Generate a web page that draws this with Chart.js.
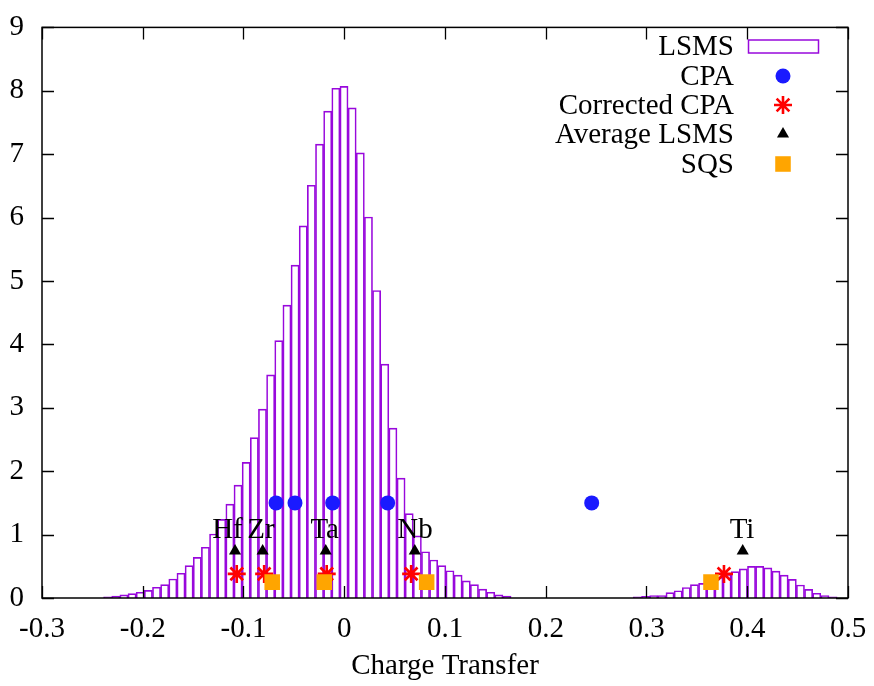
<!DOCTYPE html>
<html>
<head>
<meta charset="utf-8">
<title>Charge Transfer</title>
<script src="https://cdn.jsdelivr.net/npm/chart.js@4.4.0/dist/chart.umd.min.js"></script>
<style>
  html, body { margin: 0; padding: 0; background: #fff; }
  canvas { display: block; }
</style>
</head>
<body>
<canvas id="chart" width="874" height="686"></canvas>
<script>
// LSMS charge transfer histogram, 90 equal bins
const binStart = -0.2389;
const binWidth = 0.00809;
const lsmsCounts = [
  0.02, 0.03, 0.05, 0.07, 0.09, 0.12, 0.17, 0.21, 0.30, 0.39,
  0.51, 0.64, 0.80, 1.01, 1.24, 1.48, 1.78, 2.14, 2.53, 2.98,
  3.52, 4.06, 4.62, 5.25, 5.87, 6.51, 7.16, 7.68, 8.04, 8.07,
  7.73, 7.02, 6.01, 4.85, 3.69, 2.68, 1.89, 1.33, 0.98, 0.73,
  0.60, 0.51, 0.43, 0.36, 0.27, 0.21, 0.14, 0.09, 0.05, 0.03,
  0, 0, 0, 0, 0, 0, 0, 0, 0, 0,
  0, 0, 0, 0, 0, 0.02, 0.025, 0.04, 0.04, 0.085,
  0.115, 0.165, 0.21, 0.23, 0.27, 0.33, 0.37, 0.415, 0.46, 0.50,
  0.50, 0.475, 0.425, 0.36, 0.295, 0.205, 0.135, 0.075, 0.04, 0.02
];

// per-element points
const elements = ["Hf", "Zr", "Ta", "Nb", "Ti"];
const cpaX = [-0.0677, -0.0489, -0.0115, 0.0431, 0.2456];
const cpaY = [1.5, 1.5, 1.5, 1.5, 1.5];
const correctedX = [-0.1067, -0.0795, -0.0174, 0.0664, 0.3769];
const correctedY = [0.38, 0.38, 0.38, 0.38, 0.38];
const avgLsmsX = [-0.1084, -0.0810, -0.0184, 0.0700, 0.3955];
const avgLsmsY = [0.74, 0.74, 0.74, 0.74, 0.74];
const sqsX = [-0.0715, -0.0198, 0.0818, 0.3640];
const sqsY = [0.25, 0.25, 0.25, 0.25];
const elementLabelX = [-0.1159, -0.0826, -0.0194, 0.0702, 0.3948];
const elementLabelY = 0.94;

const xTicks = [-0.3, -0.2, -0.1, 0, 0.1, 0.2, 0.3, 0.4, 0.5];
const yTicks = [0, 1, 2, 3, 4, 5, 6, 7, 8, 9];

const serif = "'Liberation Serif', 'Times New Roman', 'DejaVu Serif', serif";
const fontSize = 29;
const violet = "#9808dc";
Chart.defaults.font.family = serif;
Chart.defaults.font.size = fontSize;
Chart.defaults.color = "#000";

function pairs(xs, ys) {
  return xs.map(function(x, i) { return {x: x, y: ys[i]}; });
}

let histogram = [];
lsmsCounts.forEach(function(c, i) {
  if (c > 0) {
    histogram.push({x: binStart + (i + 0.5) * binWidth, y: c});
  }
});

// boxes span a whole bin on the x scale, like gnuplot "with boxes"
const binBoxes = {
  id: "binBoxes",
  afterDatasetsUpdate(chart) {
    const xs = chart.scales.x;
    const w = xs.getPixelForValue(binWidth) - xs.getPixelForValue(0);
    const meta = chart.getDatasetMeta(0);
    meta.data.forEach(function(bar, i) {
      bar.x = xs.getPixelForValue(histogram[i].x);
      bar.width = w;
    });
  }
};

// frame with inward ticks on all four sides, plus element names
const frame = {
  id: "frame",
  afterDatasetsDraw(chart) {
    const ctx = chart.ctx;
    const a = chart.chartArea;
    const xs = chart.scales.x, ys = chart.scales.y;
    const len = 12;
    ctx.save();
    ctx.strokeStyle = "#000";
    ctx.lineWidth = 1.3;
    ctx.beginPath();
    xTicks.forEach(function(v) {
      const px = Math.round(xs.getPixelForValue(v)) + 0.5;
      ctx.moveTo(px, a.bottom); ctx.lineTo(px, a.bottom - len);
      ctx.moveTo(px, a.top); ctx.lineTo(px, a.top + len);
    });
    yTicks.forEach(function(v) {
      const py = Math.round(ys.getPixelForValue(v)) + 0.5;
      ctx.moveTo(a.left, py); ctx.lineTo(a.left + len, py);
      ctx.moveTo(a.right, py); ctx.lineTo(a.right - len, py);
    });
    ctx.stroke();
    ctx.lineWidth = 1.5;
    ctx.strokeRect(a.left, a.top, a.right - a.left, a.bottom - a.top);

    ctx.font = fontSize + "px " + serif;
    ctx.fillStyle = "#000";
    ctx.textAlign = "center";
    ctx.textBaseline = "alphabetic";
    elements.forEach(function(name, i) {
      ctx.fillText(name, xs.getPixelForValue(elementLabelX[i]), ys.getPixelForValue(elementLabelY));
    });
    ctx.restore();
  }
};

// key in the upper right corner: text right-aligned, sample to its right
const key = {
  id: "key",
  afterDraw(chart) {
    const ctx = chart.ctx;
    const textRight = 734;
    const sampleX = 783;
    const rowY = [46, 76, 105, 134, 164];
    ctx.save();
    ctx.font = fontSize + "px " + serif;
    ctx.textAlign = "right";
    ctx.textBaseline = "middle";
    chart.data.datasets.forEach(function(ds, i) {
      ctx.fillStyle = "#000";
      ctx.fillText(ds.label, textRight, rowY[i] + 1);
      if (ds.type === "bar") {
        ctx.strokeStyle = ds.borderColor;
        ctx.lineWidth = 1.5;
        ctx.strokeRect(748.5, rowY[i] - 6, 70, 13);
      } else {
        ctx.fillStyle = ds.pointBackgroundColor;
        ctx.strokeStyle = ds.pointBorderColor;
        ctx.lineWidth = ds.pointBorderWidth;
        Chart.helpers.drawPoint(ctx, {
          pointStyle: ds.pointStyle,
          radius: ds.pointRadius,
          rotation: 0,
          borderWidth: ds.pointBorderWidth
        }, sampleX, rowY[i]);
      }
    });
    ctx.restore();
  }
};

new Chart(document.getElementById("chart"), {
  data: {
    datasets: [
      {
        type: "bar",
        label: "LSMS",
        data: histogram,
        backgroundColor: "rgba(255,255,255,0)",
        borderColor: violet,
        borderWidth: 1,
        borderSkipped: "start",
        grouped: false,
        barPercentage: 1,
        categoryPercentage: 1,
        order: 5
      },
      {
        type: "scatter",
        label: "CPA",
        xAxisID: "xp",
        data: pairs(cpaX, cpaY),
        pointStyle: "circle",
        pointRadius: 7.5,
        pointBorderWidth: 0,
        pointBackgroundColor: "#1a1aff",
        pointBorderColor: "#1a1aff",
        order: 4
      },
      {
        type: "scatter",
        label: "Corrected CPA",
        xAxisID: "xp",
        data: pairs(correctedX, correctedY),
        pointStyle: "star",
        pointRadius: 9,
        pointBorderWidth: 2.6,
        pointBackgroundColor: "#ff0000",
        pointBorderColor: "#ff0000",
        order: 3
      },
      {
        type: "scatter",
        label: "Average LSMS",
        xAxisID: "xp",
        data: pairs(avgLsmsX, avgLsmsY),
        pointStyle: "triangle",
        pointRadius: 7,
        pointBorderWidth: 0,
        pointBackgroundColor: "#000",
        pointBorderColor: "#000",
        order: 2
      },
      {
        type: "scatter",
        label: "SQS",
        xAxisID: "xp",
        data: pairs(sqsX, sqsY),
        pointStyle: "rect",
        pointRadius: 11,
        pointBorderWidth: 0,
        pointBackgroundColor: "#ffa500",
        pointBorderColor: "#ffa500",
        order: 1
      }
    ]
  },
  options: {
    responsive: false,
    animation: false,
    events: [],
    layout: { padding: { top: 23, right: 26, left: 0, bottom: 0 } },
    plugins: {
      legend: { display: false },
      tooltip: { enabled: false }
    },
    scales: {
      x: {
        type: "linear",
        position: "bottom",
        min: -0.3,
        max: 0.5,
        offset: false,
        grid: { display: false, offset: false },
        border: { display: false },
        afterBuildTicks(scale) {
          scale.ticks = xTicks.map(function(v) { return {value: v}; });
        },
        afterFit(scale) { scale.height = 88; },
        ticks: {
          padding: 6,
          maxRotation: 0,
          autoSkip: false,
          callback: function(v) { return String(Math.round(v * 10) / 10); }
        },
        title: {
          display: true,
          text: "Charge Transfer",
          padding: { top: 0, bottom: 2 }
        }
      },
      // same range as x, carries the point series
      xp: {
        type: "linear",
        position: "top",
        display: false,
        min: -0.3,
        max: 0.5,
        offset: false
      },
      y: {
        min: 0,
        max: 9,
        grid: { display: false },
        border: { display: false },
        afterBuildTicks(scale) {
          scale.ticks = yTicks.map(function(v) { return {value: v}; });
        },
        afterFit(scale) { scale.width = 42; },
        ticks: { padding: 10, autoSkip: false }
      }
    }
  },
  plugins: [binBoxes, frame, key]
});
</script>
</body>
</html>
